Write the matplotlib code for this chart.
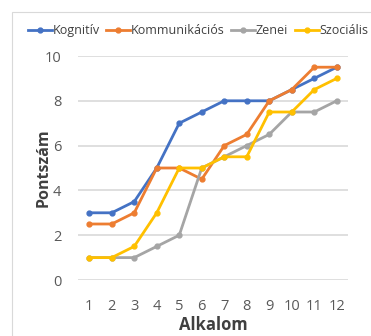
import matplotlib
matplotlib.use('Agg')
from matplotlib import pyplot as plt
from matplotlib.patches import Rectangle

plt.rcParams['font.family'] = ['Open Sans', 'DejaVu Sans']

# adatok
alkalom = [1, 2, 3, 4, 5, 6, 7, 8, 9, 10, 11, 12]
kognitiv = [3, 3, 3.5, 5, 7, 7.5, 8, 8, 8, 8.5, 9, 9.5]
kommunikacios = [2.5, 2.5, 3, 5, 5, 4.5, 6, 6.5, 8, 8.5, 9.5, 9.5]
zenei = [1, 1, 1, 1.5, 2, 5, 5.5, 6, 6.5, 7.5, 7.5, 8]
szocialis = [1, 1, 1.5, 3, 5, 5, 5.5, 5.5, 7.5, 7.5, 8.5, 9]

series = [
    ('Kognitív', kognitiv, '#4472C4'),
    ('Kommunikációs', kommunikacios, '#ED7D31'),
    ('Zenei', zenei, '#A5A5A5'),
    ('Szociális', szocialis, '#FFC000'),
]

W, H = 371, 336
fig = plt.figure(figsize=(W / 100, H / 100), dpi=100)
ax = fig.add_axes([78 / W, 1 - 280 / H, (348 - 78) / W, (280 - 56) / H])

# diagram kerete
fig.patches.append(Rectangle((12 / W, -0.05), 1.0, 1 - 12 / H + 0.05,
                             transform=fig.transFigure, fill=False,
                             edgecolor='#D9D9D9', linewidth=0.8))

for name, vals, color in series:
    ax.plot(alkalom, vals, color=color, marker='o', markersize=3.5,
            linewidth=2.0, label=name)

ax.set_xlim(0.5, 12.5)
ax.set_ylim(0, 10)
ax.set_xticks(alkalom)
ax.set_yticks([0, 2, 4, 6, 8, 10])
ax.grid(axis='y', color='#D9D9D9', linewidth=1.2)
ax.set_axisbelow(True)
for s in ax.spines.values():
    s.set_visible(False)
ax.tick_params(length=0, labelsize=10.5, colors='#595959', pad=12)
ax.tick_params(axis='x', pad=14)

ax.set_xlabel('Alkalom', fontsize=12, fontweight='bold', color='#404040', labelpad=1)
ax.set_ylabel('Pontszám', fontsize=11.5, fontweight='bold', color='#404040', labelpad=-5)

fig.legend(loc='upper left', bbox_to_anchor=(28 / W, 1 - 24 / H), ncol=4,
           frameon=False, fontsize=9, handlelength=1.9, handletextpad=0.05,
           columnspacing=0.55, borderpad=0, borderaxespad=0,
           labelcolor='#404040')

fig.savefig('out.png', dpi=100)
